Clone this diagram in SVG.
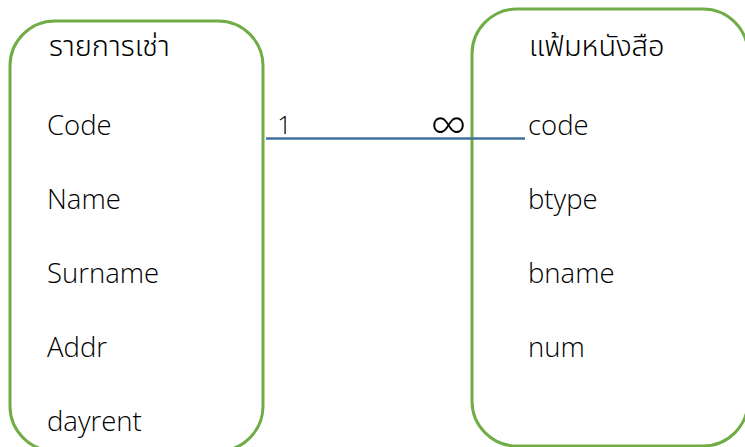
<svg xmlns="http://www.w3.org/2000/svg" width="745" height="447" viewBox="0 0 745 447">
<style>
.box{fill:#fff;stroke:#70AD47;stroke-width:3}
.t{font-family:"Open Sans","Noto Sans","Liberation Sans",sans-serif;font-weight:300;font-size:27.5px;fill:#000}
.th{font-family:"Noto Sans Thai","Noto Sans","DejaVu Sans",sans-serif;font-weight:300;font-size:29px;fill:#000}
.lbl{font-family:"Open Sans","Liberation Sans",sans-serif;font-weight:300;font-size:26px;fill:#000}
.conn{stroke:#41719C;stroke-width:2.5;fill:none}
</style>
<rect width="745" height="447" fill="#fff"/>
<g id="node-rental">
<rect class="box" x="10" y="21" width="253" height="430" rx="45" ry="45"/>
<text class="th" x="49" y="56">รายการเช่า</text>
<text class="t" x="47" y="135">Code</text>
<text class="t" x="47" y="209">Name</text>
<text class="t" x="47" y="283">Surname</text>
<text class="t" x="47" y="357">Addr</text>
<text class="t" x="47" y="431">dayrent</text>
</g>
<g id="node-books">
<rect class="box" x="472" y="9" width="276" height="437" rx="45" ry="45"/>
<text class="th" x="529" y="56">แฟ้มหนังสือ</text>
<text class="t" x="528" y="135">code</text>
<text class="t" x="528" y="209">btype</text>
<text class="t" x="528" y="283">bname</text>
<text class="t" x="528" y="357">num</text>
</g>
<g id="connectors">
<line class="conn" x1="266" y1="138.5" x2="525" y2="138.5"/>
<text class="lbl" x="277" y="134">1</text>
<text x="430" y="140" style="font-family:Lato,'Open Sans',sans-serif;font-weight:300;font-size:50px;fill:#000">∞</text>
</g>
</svg>
